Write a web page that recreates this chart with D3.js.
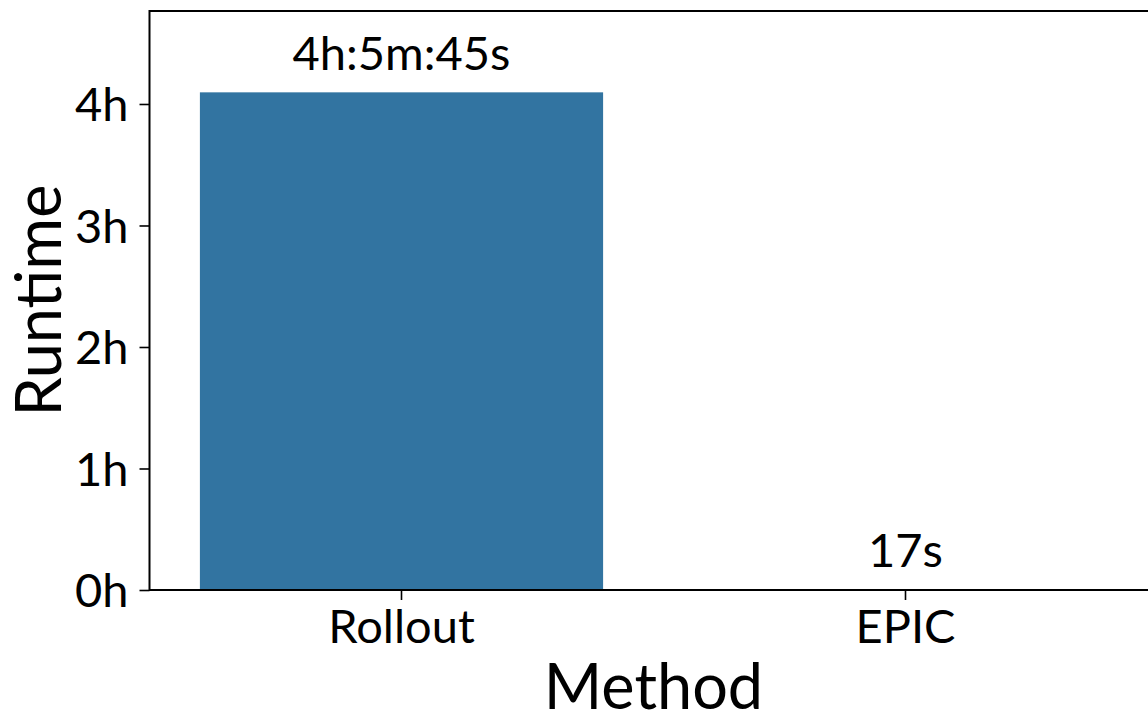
<!DOCTYPE html>
<html><head><meta charset="utf-8">
<script src="https://cdn.jsdelivr.net/npm/d3@7"></script>
<style>body{margin:0;background:#fff}svg{display:block}text{font-family:Lato,sans-serif;fill:#000}</style>
</head><body>
<svg id="c" width="1148" height="714"></svg>
<script>
const categories = ["Rollout", "EPIC"];
const runtimeSeconds = [14745, 17];
const barLabels = ["4h:5m:45s", "17s"];
const yTickValues = [0, 3600, 7200, 10800, 14400];
const yTickLabels = ["0h", "1h", "2h", "3h", "4h"];

const svg = d3.select("#c");
const pLeft = 149.5, pRight = 1157.5, pTop = 11, pBottom = 590;
const x = d3.scaleBand().domain(categories).range([pLeft, pRight]).paddingInner(0.2).paddingOuter(0.1);
const y = d3.scaleLinear().domain([0, 17155]).range([pBottom, pTop]);

svg.selectAll("rect.bar").data(categories).join("rect").attr("class","bar")
  .attr("x", d => x(d)).attr("width", x.bandwidth())
  .attr("y", (d,i) => y(runtimeSeconds[i])).attr("height", (d,i) => pBottom - y(runtimeSeconds[i]))
  .attr("fill", "#3274a1");

svg.selectAll("text.bl").data(categories).join("text").attr("class","bl")
  .attr("x", d => x(d) + x.bandwidth()/2).attr("y", (d,i) => y(runtimeSeconds[i]) - 22)
  .attr("text-anchor","middle").style("font-size","47px").text((d,i) => barLabels[i]);

const yAxis = d3.axisLeft(y).tickValues(yTickValues).tickFormat((d,i) => yTickLabels[i]).tickSize(10).tickPadding(11);
const gy = svg.append("g").attr("transform", `translate(${pLeft},0)`).call(yAxis);
gy.select(".domain").remove();
gy.selectAll(".tick line").attr("stroke","#000").attr("stroke-width",1.6);
gy.selectAll(".tick text").style("font-size","47px").attr("dy","0.36em");

const xAxis = d3.axisBottom(x).tickSize(10).tickPadding(10);
const gx = svg.append("g").attr("transform", `translate(0,${pBottom})`).call(xAxis);
gx.select(".domain").remove();
gx.selectAll(".tick line").attr("stroke","#000").attr("stroke-width",1.6);
gx.selectAll(".tick text").style("font-size","47px").attr("dy","0.71em");

svg.append("rect").attr("x", pLeft).attr("y", pTop).attr("width", pRight-pLeft).attr("height", pBottom-pTop)
  .attr("fill","none").attr("stroke","#000").attr("stroke-width",2);

svg.append("text").attr("x", (pLeft+pRight)/2).attr("y", 709).attr("text-anchor","middle")
  .style("font-size","63px").text("Method");
svg.append("text").attr("transform", `translate(61,${(pTop+pBottom)/2}) rotate(-90)`).attr("text-anchor","middle")
  .style("font-size","63px").text("Runtime");
</script>
</body></html>
